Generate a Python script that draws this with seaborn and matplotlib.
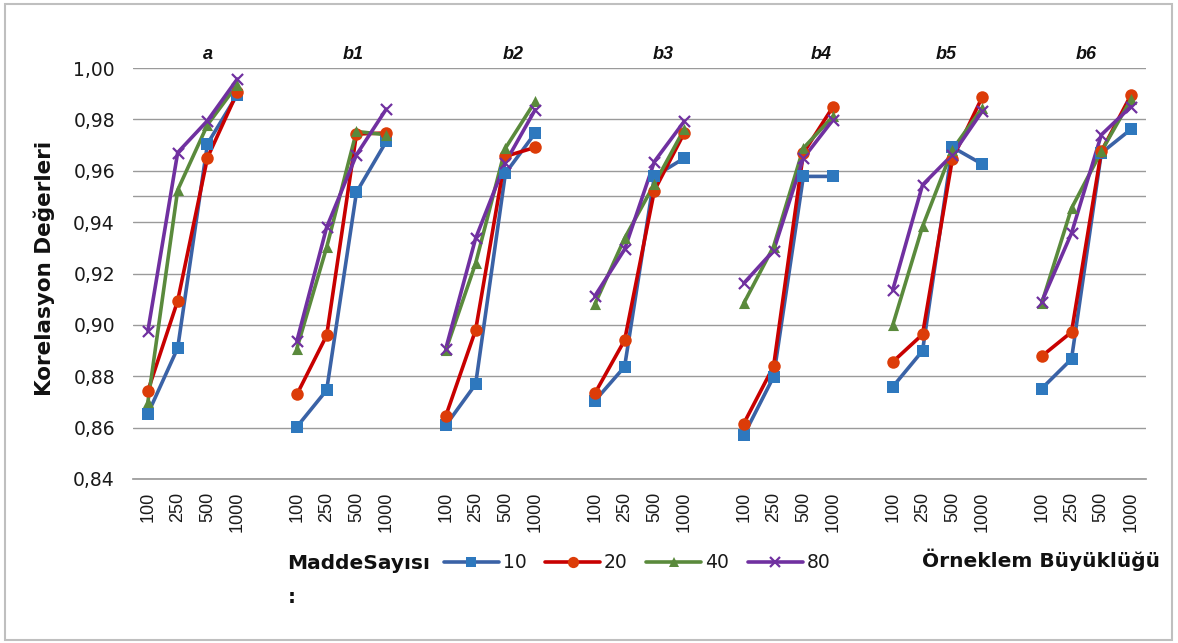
import numpy as np
import pandas as pd
import matplotlib
matplotlib.use("Agg")
import matplotlib.pyplot as plt
import seaborn as sns
from matplotlib.lines import Line2D
from matplotlib.patches import Rectangle
from matplotlib.ticker import FuncFormatter

groups = ["a", "b1", "b2", "b3", "b4", "b5", "b6"]
sizes = ["100", "250", "500", "1000"]
items = ["10", "20", "40", "80"]

# values per series: 7 groups x 4 sample sizes
s10 = [0.8654, 0.8910, 0.9705, 0.9896,
       0.8603, 0.8746, 0.9516, 0.9714,
       0.8609, 0.8769, 0.9590, 0.9747,
       0.8704, 0.8837, 0.9578, 0.9649,
       0.8570, 0.8798, 0.9578, 0.9578,
       0.8759, 0.8899, 0.9692, 0.9626,
       0.8752, 0.8867, 0.9669, 0.9762]
s20 = [0.8743, 0.9094, 0.9651, 0.9905,
       0.8729, 0.8959, 0.9743, 0.9747,
       0.8646, 0.8980, 0.9656, 0.9691,
       0.8733, 0.8940, 0.9523, 0.9747,
       0.8616, 0.8839, 0.9669, 0.9850,
       0.8856, 0.8963, 0.9645, 0.9886,
       0.8878, 0.8972, 0.9675, 0.9896]
s40 = [0.8700, 0.9525, 0.9779, 0.9935,
       0.8908, 0.9302, 0.9753, 0.9740,
       0.8902, 0.9240, 0.9688, 0.9870,
       0.9080, 0.9337, 0.9549, 0.9762,
       0.9084, 0.9305, 0.9688, 0.9812,
       0.8999, 0.9383, 0.9682, 0.9844,
       0.9084, 0.9454, 0.9675, 0.9879]
s80 = [0.8977, 0.9671, 0.9795, 0.9957,
       0.8937, 0.9380, 0.9662, 0.9840,
       0.8908, 0.9337, 0.9632, 0.9838,
       0.9112, 0.9294, 0.9636, 0.9792,
       0.9162, 0.9289, 0.9649, 0.9799,
       0.9136, 0.9545, 0.9662, 0.9831,
       0.9090, 0.9357, 0.9740, 0.9850]

series_vals = {"10": s10, "20": s20, "40": s40, "80": s80}
line_colors = {"10": "#3A62A6", "20": "#C80000", "40": "#5A8A3C", "80": "#7030A0"}
marker_colors = {"10": "#2E78BE", "20": "#DC3C08", "40": "#5A8A3C", "80": "#7030A0"}
markers = {"10": "s", "20": "o", "40": "^", "80": "x"}
msizes = {"10": 8, "20": 9, "40": 8, "80": 8}

rows = []
for it in items:
    vals = series_vals[it]
    for gi, g in enumerate(groups):
        for si, s in enumerate(sizes):
            rows.append({"Madde": it, "group": g, "size": s,
                         "pos": gi * (len(sizes) + 1) + si,
                         "value": vals[gi * len(sizes) + si]})
df = pd.DataFrame(rows)

sns.set_theme(style="white")
plt.rcParams["font.family"] = ["DejaVu Sans"]

W, H = 1178, 643
fig = plt.figure(figsize=(W / 100, H / 100), dpi=100)
ax = fig.add_axes([133 / W, 1 - 479 / H, (1146 - 133) / W, (479 - 68) / H])

for it in items:
    sub = df[df["Madde"] == it]
    sns.lineplot(data=sub, x="pos", y="value", units="group", estimator=None,
                 color=line_colors[it], lw=2.6, ax=ax, legend=False, zorder=3)
    sns.scatterplot(data=sub, x="pos", y="value", marker=markers[it],
                    color=marker_colors[it], s=msizes[it] ** 2,
                    linewidth=1.6 if it == "80" else 0, ax=ax, legend=False, zorder=4)

ax.set_ylim(0.84, 1.00)
ax.set_xlim(-0.5, 33.5)
ax.set_yticks(np.arange(0.84, 1.0001, 0.02))
ax.yaxis.set_major_formatter(FuncFormatter(lambda v, p: f"{v:.2f}".replace(".", ",")))
ticks = df.drop_duplicates("pos")
ax.set_xticks(ticks["pos"])
ax.set_xticklabels(ticks["size"], rotation=90, fontsize=13, color="#1a1a1a",
                   family="Liberation Sans")
ax.tick_params(axis="y", labelsize=13.5, labelcolor="#1a1a1a", length=0, pad=13)
ax.tick_params(axis="x", length=0, pad=9)
ax.grid(axis="y", color="#9a9a9a", lw=1.0)
ax.axhline(0.95, color="#9a9a9a", lw=1.0, zorder=0)
ax.set_axisbelow(True)
for sp in ["left", "right", "top"]:
    ax.spines[sp].set_visible(False)
ax.spines["bottom"].set_color("#9a9a9a")
ax.set_xlabel("")
ax.set_ylabel("")

# group labels
label_pos = [2.0, 6.88, 12.25, 17.28, 22.6, 26.8, 31.5]
for g, xp in zip(groups, label_pos):
    ax.text(xp, 1.0053, g, ha="center", va="center", fontsize=13,
            fontweight="bold", fontstyle="italic", color="#111111",
            family="Liberation Sans")

fig.text(44 / W, 1 - 268 / H, "Korelasyon Değerleri", rotation=90,
         ha="center", va="center", fontsize=15.5, fontweight="bold", color="#111111")
fig.text(287 / W, 1 - 569 / H, "MaddeSayısı", ha="left", va="baseline",
         fontsize=14.5, fontweight="bold", color="#111111")
fig.text(288 / W, 1 - 603 / H, ":", ha="left", va="baseline",
         fontsize=14.5, fontweight="bold", color="#111111")
fig.text(922 / W, 1 - 567 / H, "Örneklem Büyüklüğü", ha="left", va="baseline",
         fontsize=14.5, fontweight="bold", color="#111111")

handles = [Line2D([0], [0], color=line_colors[it], lw=2.6, marker=markers[it],
                  markerfacecolor=marker_colors[it], markeredgecolor=marker_colors[it],
                  markersize=msizes[it] * 0.9, markeredgewidth=1.6 if it == "80" else 0)
           for it in items]
leg = fig.legend(handles, items, loc="center left",
                 bbox_to_anchor=(444 / W, 1 - 563 / H), ncol=4, frameon=False,
                 fontsize=13.5, handlelength=2.93, handletextpad=0.2, columnspacing=1.0,
                 borderaxespad=0, borderpad=0)
for t in leg.get_texts():
    t.set_color("#1a1a1a")

fig.patches.append(Rectangle((5 / W, 3 / H), 1167 / W, 636 / H,
                             transform=fig.transFigure, fill=False,
                             edgecolor="#BFBFBF", lw=1.5))

fig.savefig("out.png", dpi=100)
